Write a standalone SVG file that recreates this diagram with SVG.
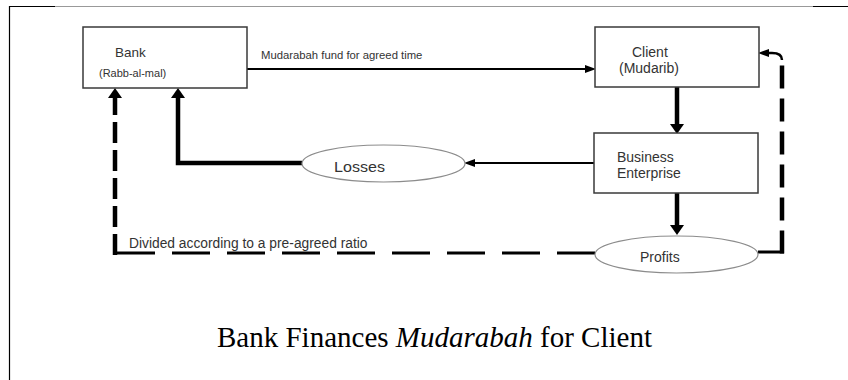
<svg xmlns="http://www.w3.org/2000/svg" width="848" height="380" viewBox="0 0 848 380">
<style>
.box{fill:#fff;stroke:#3a3a3a;stroke-width:1.5}
.ell{fill:#fff;stroke:#8c8c8c;stroke-width:1.2}
.t{font-family:"Liberation Sans",Arial,sans-serif;fill:#333}
.cap{font-family:"Liberation Serif","Times New Roman",serif;font-size:29px;fill:#000}
.thin{fill:none;stroke:#000;stroke-width:2}
.thick{fill:none;stroke:#000;stroke-width:4.5}
</style>
<defs>
<marker id="aThin" markerUnits="userSpaceOnUse" markerWidth="12" markerHeight="10" refX="0" refY="5" orient="auto" overflow="visible">
<path d="M0,1 L11,5 L0,9 z" fill="#000"/>
</marker>
<marker id="aThick" markerUnits="userSpaceOnUse" markerWidth="12" markerHeight="14" refX="0" refY="7" orient="auto" overflow="visible">
<path d="M0,0 L10,7 L0,14 z" fill="#000"/>
</marker>
</defs>
<g id="frame">
<line x1="9.5" y1="6" x2="9.5" y2="380" stroke="#000" stroke-width="1.2"/>
<line x1="9" y1="6.5" x2="55" y2="6.5" stroke="#000" stroke-width="1.2"/>
<line x1="55" y1="6.5" x2="813" y2="6.5" stroke="#999" stroke-width="1.2"/>
<line x1="813" y1="6.5" x2="848" y2="6.5" stroke="#000" stroke-width="1.2"/>
</g>
<g id="connectors">
<path class="thin" d="M247,69 H585" marker-end="url(#aThin)"/>
<path class="thin" d="M594,163 H475" marker-end="url(#aThin)"/>
<path class="thick" d="M677,87 V124" marker-end="url(#aThick)"/>
<path class="thick" d="M677,193 V225" marker-end="url(#aThick)"/>
<path class="thick" d="M302,163 H178 V98" stroke-linejoin="miter" marker-end="url(#aThick)"/>
<path fill="none" stroke="#000" stroke-width="3" stroke-dasharray="38 17" d="M595,253 H115"/>
<path fill="none" stroke="#000" stroke-width="4.5" stroke-dasharray="21 7" d="M115,255 V98" marker-end="url(#aThick)"/>
<path fill="none" stroke="#000" stroke-width="3" d="M758,252 H784"/>
<path fill="none" stroke="#000" stroke-width="4.5" stroke-dasharray="23 10" d="M782,253.5 V64"/>
<path fill="none" stroke="#000" stroke-width="2.5" d="M782,60 Q782,53 772,53 H769" marker-end="url(#aThin)"/>
<text class="t" x="261" y="59" font-size="11.3">Mudarabah fund for agreed time</text>
<text class="t" x="129" y="248" font-size="13.8">Divided according to a pre-agreed ratio</text>
</g>
<g id="bank">
<rect class="box" x="83" y="27" width="164" height="61"/>
<text class="t" x="115" y="57" font-size="13.5">Bank</text>
<text class="t" x="99" y="77" font-size="11">(Rabb-al-mal)</text>
</g>
<g id="client">
<rect class="box" x="595" y="27" width="164" height="60"/>
<text class="t" x="632" y="57" font-size="14">Client</text>
<text class="t" x="619" y="73" font-size="14">(Mudarib)</text>
</g>
<g id="business">
<rect class="box" x="594" y="133" width="164" height="60"/>
<text class="t" x="617" y="162" font-size="14">Business</text>
<text class="t" x="617" y="178" font-size="14">Enterprise</text>
</g>
<g id="losses">
<ellipse class="ell" cx="383.5" cy="163.5" rx="81.5" ry="18.5"/>
<text class="t" x="334" y="172" font-size="14.5" textLength="51" lengthAdjust="spacingAndGlyphs">Losses</text>
</g>
<g id="profits">
<ellipse class="ell" cx="676.5" cy="254.5" rx="81.5" ry="18.5"/>
<text class="t" x="640" y="262" font-size="14">Profits</text>
</g>
<g id="caption">
<text class="cap" x="217" y="347">Bank Finances <tspan font-style="italic">Mudarabah</tspan> for Client</text>
</g>
</svg>
